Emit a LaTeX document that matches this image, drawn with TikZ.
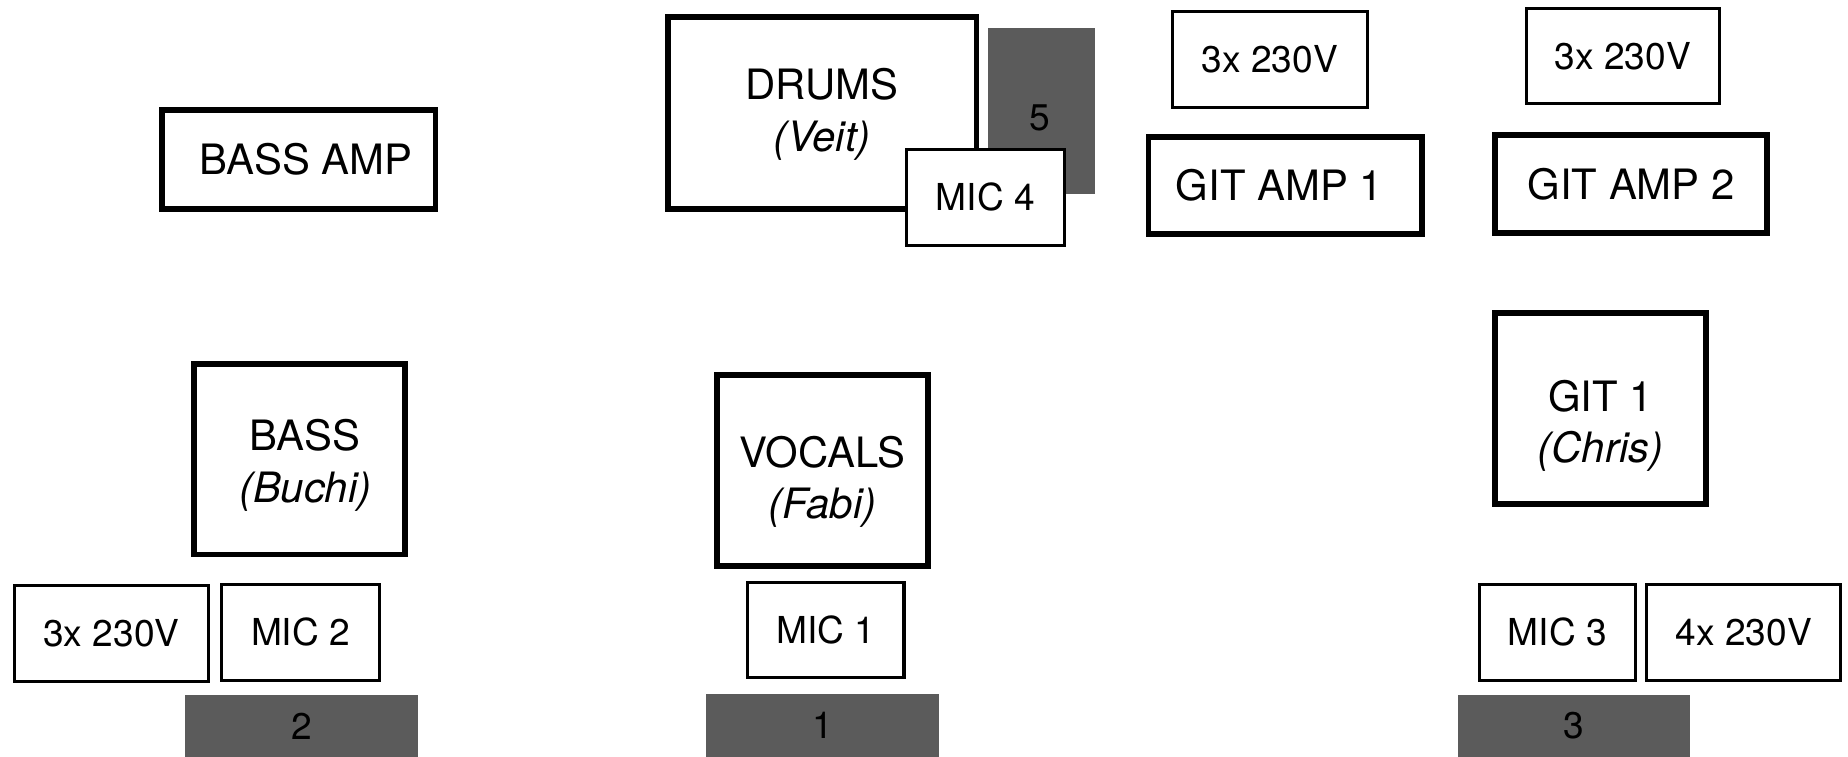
\documentclass[tikz,border=0pt]{standalone}
\usepackage{fontspec}
\setmainfont{TeX Gyre Heros}
\definecolor{stagegrey}{RGB}{91,91,91}
\begin{document}
\begin{tikzpicture}[x=1pt,y=-1pt,
  every node/.style={align=center, inner sep=0pt},
  bigtext/.style={font=\fontsize{35.5}{44}\selectfont},
  smalltext/.style={font=\fontsize{31.5}{40}\selectfont},
  heavybox/.style={draw, line width=5pt, fill=white, bigtext},
  lightbox/.style={draw, line width=2.6pt, fill=white, smalltext},
  riser/.style={fill=stagegrey, smalltext}]
\useasboundingbox (0,0) rectangle (1568,642);
% risers
\node[riser, minimum width=91pt, minimum height=141pt] (riser5) at (883.5,94.5) {};
\node[smalltext] at (882,100) (num5) {5};
\node[riser, minimum width=198pt, minimum height=52pt] (riser2) at (256,616) {2};
\node[riser, minimum width=198pt, minimum height=53pt] (riser1) at (698,615.5) {1};
\node[riser, minimum width=197pt, minimum height=52pt] (riser3) at (1335.5,616) {3};
% heavy boxes
\node[heavybox, minimum width=232pt, minimum height=84pt] (bassamp) at (253.5,135.5) {\hspace*{12pt}BASS AMP};
\node[heavybox, minimum width=262pt, minimum height=163pt, text height=100pt, text depth=35.5pt] (drums) at (697.5,96) {DRUMS\\\textit{(Veit)}};
\node[heavybox, minimum width=232pt, minimum height=82pt] (gitamp1) at (1090.5,157.5) {GIT AMP 1\hspace*{10pt}};
\node[heavybox, minimum width=231pt, minimum height=83pt] (gitamp2) at (1384,156) {GIT AMP 2};
\node[heavybox, minimum width=179pt, minimum height=162pt, text height=100pt, text depth=26.5pt] (bass) at (254,389.5) {\hspace*{10pt}BASS\\\hspace*{10pt}\textit{(Buchi)}};
\node[heavybox, minimum width=179pt, minimum height=162pt, text height=100pt, text depth=18.5pt] (vocals) at (698,399.5) {VOCALS\\\textit{(Fabi)}};
\node[heavybox, minimum width=179pt, minimum height=162pt, text height=100pt, text depth=7.5pt] (git1) at (1358,346.5) {GIT 1\\\textit{(Chris)}};
% light boxes
\node[lightbox, minimum width=134pt, minimum height=81pt] (mic4) at (836,167.5) {MIC 4};
\node[lightbox, minimum width=165pt, minimum height=81pt] (pwrA) at (1077.5,50.5) {3x 230V};
\node[lightbox, minimum width=164pt, minimum height=81pt] (pwrB) at (1377,47.5) {3x 230V};
\node[lightbox, minimum width=165pt, minimum height=81pt] (pwrC) at (94.5,537.5) {3x 230V};
\node[lightbox, minimum width=134pt, minimum height=81pt] (mic2) at (255,536.5) {MIC 2};
\node[lightbox, minimum width=133pt, minimum height=81pt] (mic1) at (700.5,534.5) {MIC 1};
\node[lightbox, minimum width=133pt, minimum height=81pt] (mic3) at (1321.5,536.5) {MIC 3};
\node[lightbox, minimum width=165pt, minimum height=81pt] (pwrD) at (1479.5,536.5) {4x 230V};
\end{tikzpicture}
\end{document}
